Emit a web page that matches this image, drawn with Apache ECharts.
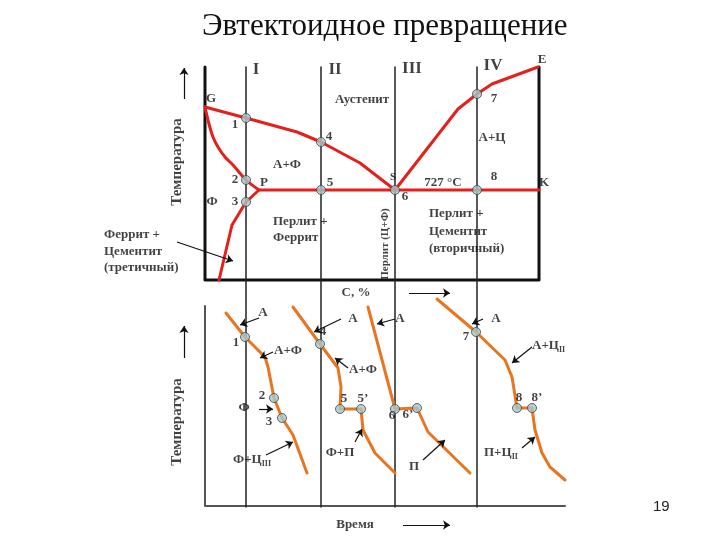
<!DOCTYPE html>
<html><head><meta charset="utf-8">
<script src="https://cdn.jsdelivr.net/npm/echarts@6/dist/echarts.min.js"></script>
<style>html,body{margin:0;padding:0;background:#fff}#c{width:720px;height:540px}</style>
</head><body><div id="c"></div>
<script>
// ---------- data (pixel-like diagram coordinates, y downward) ----------
const titleText = 'Эвтектоидное превращение';
const pageNumber = '19';

// black frames
const frameTop = [[205,67],[205,280],[539,280],[539,67]];
const frameBottom = [[205,306],[205,506],[565,506]];
const alloyX = [246,321,395,477];
const alloyYRange = [67,507];

// red phase-diagram lines
const lineGS = [[205,107],[246,118],[297,132],[321,142],[360,163],[395,190]];
const lineSE = [[395,190],[458,109],[477,94],[492,84],[538,67]];
const linePK = [[259,190],[539,190]];
const lineGP = [[205,107],[209,124],[213,137],[218,147],[225,157],[233,165],[246,180],[259,190]];
const linePQ = [[259,190],[246,202],[232,225],[219,280]];
const topPoints = [[246,118],[321,142],[246,180],[246,202],[321,190],[395,190],[477,94],[477,190]];

// orange cooling curves
const coolI = [[226,313],[245,337],[265,357],[268,367],[274,398],[282,418],[293,435],[307,473]];
const coolII = [[293,307],[320,344],[338,368],[341,387],[340,409],[361,409],[363,430],[375,453],[395,473]];
const coolIII = [[368,307],[395,409],[417,408],[428,432],[470,473]];
const coolIV = [[437,299],[476,332],[505,360],[512,377],[517,408],[532,408],[535,430],[542,453],[550,467],[565,480]];
const coolPoints = [[245,337],[274,398],[282,418],[320,344],[340,409],[361,409],[395,409],[417,408],[476,332],[517,408],[532,408]];

// arrows [from, to]
const arrows = [
  [[184,99],[184,68]], [[184,358],[184,326]], [[409,293],[450,293]], [[403,525],[450,525]],
  [[177,242],[233,261]],
  [[259,318],[240,325]], [[273,352],[260,358]], [[259,409],[273,409]], [[266,455],[293,442]],
  [[341,319],[314,332]], [[348,368],[335,358]], [[355,442],[362,429]],
  [[395,319],[377,324]], [[423,460],[445,440]],
  [[483,319],[472,324]], [[532,347],[512,363]], [[522,448],[535,437]]
];

// labels: [x, y, text]
const labelsRoman = [[256,70,'I'],[335,70,'II'],[412,69,'III'],[493,66,'IV']];
const labelsCenter = [
  [542,60,'E'],[211,99,'G'],[235,125,'1'],[329,137,'4'],[235,180,'2'],[264,183,'P'],[330,183,'5'],
  [405,197,'6'],[443,183,'727 °C'],[494,177,'8'],[544,183,'K'],[212,202,'Ф'],[235,202,'3'],
  [362,100,'Аустенит'],[494,99,'7'],[492,138,'А+Ц'],[287,165,'А+Ф'],
  [356,293,'С, %'],[355,525,'Время'],
  [263,313,'А'],[236,343,'1'],[288,351,'А+Ф'],[262,396,'2'],[244,408,'Ф'],[269,422,'3'],
  [353,319,'А'],[323,332,'4'],[363,370,'А+Ф'],[344,399,'5'],[363,399,'5’'],[340,453,'Ф+П'],
  [400,319,'А'],[392,416,'6'],[408,415,'6’'],[414,467,'П'],
  [496,319,'А'],[466,337,'7'],[519,398,'8'],[537,398,'8’']
];
const labelsSmall = [[393,177,'S']];
const labelsLeft = [
  [273,222,'Перлит +'],[273,238,'Феррит'],
  [429,214,'Перлит +'],[429,232,'Цементит'],[429,249,'(вторичный)'],
  [104,235,'Феррит +'],[104,252,'Цементит'],[104,268,'(третичный)'],
  [233,460,'Ф+Ц{s|III}'],[532,346,'А+Ц{s|II}'],[484,453,'П+Ц{s|II}']
];
const labelsRotated = [[385,244,'Перлит (Ц+Ф)',11],[177,162,'Температура',15],[177,422,'Температура',15]];

// ---------- styles ----------
const RED = '#e3211c', ORANGE = '#e8751f', DOT = '#a9c7c9';
const SERIF = '"Liberation Serif","Times New Roman",serif';

function poly(data, color, width, smooth) {
  return {type:'line', data, symbol:'none', silent:true, animation:false, smooth: smooth || false,
    lineStyle:{color, width, cap:'round', join:'round'}, z:2};
}
function textSeries(list, labelOpt) {
  return {type:'scatter', symbolSize:1, itemStyle:{color:'rgba(0,0,0,0)'}, silent:true, animation:false, z:5,
    data: list.map(d => ({value:[d[0],d[1]], label:Object.assign({}, labelOpt, {formatter:d[2]}, d[3]?{fontSize:d[3]}:{})})),
    label:Object.assign({show:true, position:'inside'}, labelOpt)};
}
const base = {fontFamily:SERIF, fontWeight:'bold', color:'#111', fontSize:13};

const series = [
  poly(frameTop, '#111', 3),
  poly(frameBottom, '#555', 2),
  ...alloyX.map(x => poly([[x,alloyYRange[0]],[x,alloyYRange[1]]], '#222', 1.5)),
  poly(lineGS, RED, 3), poly(lineSE, RED, 3), poly(linePK, RED, 3), poly(lineGP, RED, 3, 0.3), poly(linePQ, RED, 3),
  poly(coolI, ORANGE, 3), poly(coolII, ORANGE, 3), poly(coolIII, ORANGE, 3), poly(coolIV, ORANGE, 3),
  {type:'lines', coordinateSystem:'cartesian2d', silent:true, animation:false, z:3,
    symbol:['none','arrow'], symbolSize:[0,7],
    lineStyle:{color:'#111', width:1.2, opacity:1},
    data: arrows.map(a => ({coords:a}))},
  {type:'scatter', data: topPoints.concat(coolPoints), symbol:'circle', symbolSize:9, silent:true, animation:false, z:4,
    itemStyle:{color:DOT, borderColor:'#3a4a4a', borderWidth:1}},
  textSeries(labelsRoman, Object.assign({}, base, {fontSize:17})),
  textSeries(labelsCenter, base),
  textSeries(labelsSmall, Object.assign({}, base, {fontSize:11})),
  textSeries(labelsLeft, Object.assign({}, base, {align:'left', rich:{s:{fontFamily:SERIF, fontWeight:'bold', fontSize:8, padding:[7,0,0,0], color:'#111'}}})),
  textSeries(labelsRotated, Object.assign({}, base, {rotate:90}))
];

const chart = echarts.init(document.getElementById('c'), null, {renderer:'canvas'});
chart.setOption({
  animation:false,
  backgroundColor:'#fff',
  title:[
    {text:titleText, left:197, top:6, textStyle:{fontFamily:SERIF, fontWeight:'normal', fontSize:31, color:'#111'}},
    {text:pageNumber, left:648, top:494, textStyle:{fontFamily:'"Liberation Sans",Arial,sans-serif', fontWeight:'normal', fontSize:15, color:'#222'}}
  ],
  grid:{left:0, right:0, top:0, bottom:0},
  xAxis:{type:'value', min:0, max:720, show:false},
  yAxis:{type:'value', min:0, max:540, inverse:true, show:false},
  series
});
</script></body></html>
